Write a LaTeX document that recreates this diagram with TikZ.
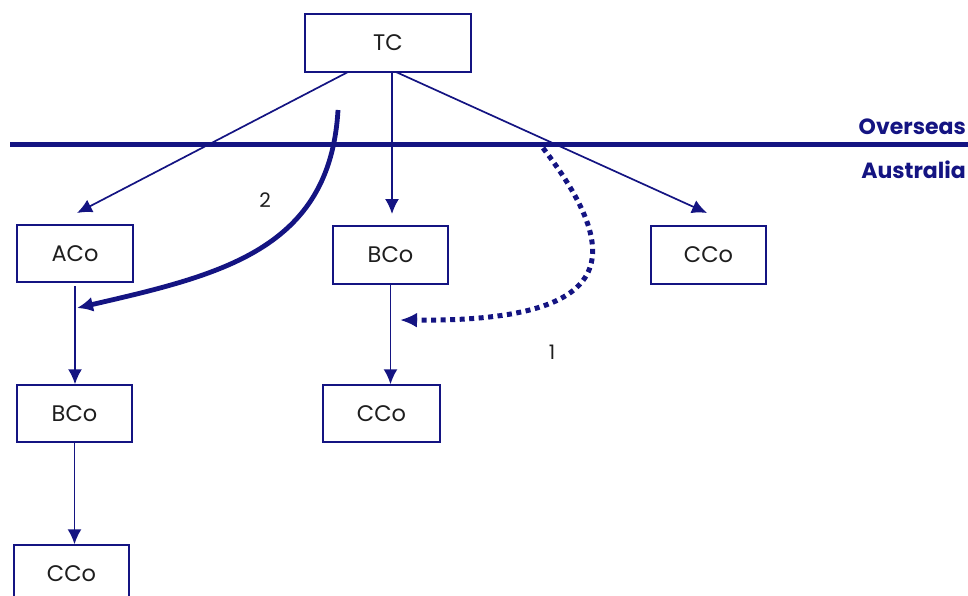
\documentclass[tikz,border=0pt]{standalone}
\usepackage{fontspec}
\setmainfont{Poppins}
\usetikzlibrary{arrows.meta}
\definecolor{navy}{RGB}{20,20,130}
\definecolor{txt}{RGB}{30,30,30}
\begin{document}
\begin{tikzpicture}[x=1pt,y=-1pt,
  cobox/.style={draw=navy,line width=1.5pt,fill=white,inner sep=0pt,text=txt,font=\fontsize{22.5}{26}\selectfont},
  conn/.style={draw=navy,line width=1.7pt,-{Latex[length=15pt,width=14pt]}},
  regionlbl/.style={text=navy,font=\bfseries\fontsize{22}{26}\selectfont,anchor=east,inner sep=0pt},
  numlbl/.style={text=txt,font=\fontsize{20}{24}\selectfont,inner sep=0pt}]
\useasboundingbox (0,0) rectangle (968,596);
% boxes
\node[cobox,minimum width=166pt,minimum height=58pt] (tc) at (388,43) {TC};
\node[cobox,minimum width=116pt,minimum height=57pt] (aco) at (75,253.5) {ACo};
\node[cobox,minimum width=115pt,minimum height=58pt] (bco) at (390.5,255) {BCo};
\node[cobox,minimum width=115pt,minimum height=58pt] (cco) at (708.5,255) {CCo};
\node[cobox,minimum width=115pt,minimum height=57pt] (bco2) at (74.5,413.5) {BCo};
\node[cobox,minimum width=117pt,minimum height=57pt] (cco2) at (381.5,413.5) {CCo};
\node[cobox,minimum width=115pt,minimum height=57pt] (cco3) at (71.5,573.5) {CCo};
% border line
\coordinate (lineL) at (10,145);
\coordinate (lineR) at (968,145);
\draw[navy,line width=5pt] (lineL) -- (lineR);
\node[regionlbl] (ov) at (966,127) {Overseas};
\node[regionlbl] (au) at (966,170) {Australia};
% connectors from TC
\coordinate (tcA) at (348,72);
\coordinate (tcB) at (392,72);
\coordinate (tcC) at (396,72);
\coordinate (aTop) at (77,213);
\coordinate (bTop) at (392,214);
\coordinate (cTop) at (707,213);
\draw[conn] (tcA) -- (aTop);
\draw[conn] (tcB) -- (bTop);
\draw[conn] (tcC) -- (cTop);
% vertical connectors
\coordinate (aBot) at (75,286);
\draw[conn] (aBot) -- (aBot |- bco2.north);
\draw[conn] (bco2.south) -- (bco2.south |- cco3.north);
\draw[conn] (bco.south) -- (bco.south |- cco2.north);
% curved arrow 2
\coordinate (s2) at (338,110);
\coordinate (e2) at (77,308);
\draw[navy,line width=4.8pt,-{Latex[length=16pt,width=15pt]}] (s2) .. controls (330,250) and (220,275) .. (e2);
\node[numlbl] (n2) at (265,200) {2};
% dotted arrow 1
\coordinate (s1) at (543,148);
\coordinate (e1) at (400,320);
\draw[navy,line width=5pt,dash pattern=on 5pt off 4.5pt,-{Latex[length=17pt,width=15pt]}] (s1) .. controls (625,255) and (620,322) .. (e1);
\node[numlbl] (n1) at (552,352) {1};
\end{tikzpicture}
\end{document}
